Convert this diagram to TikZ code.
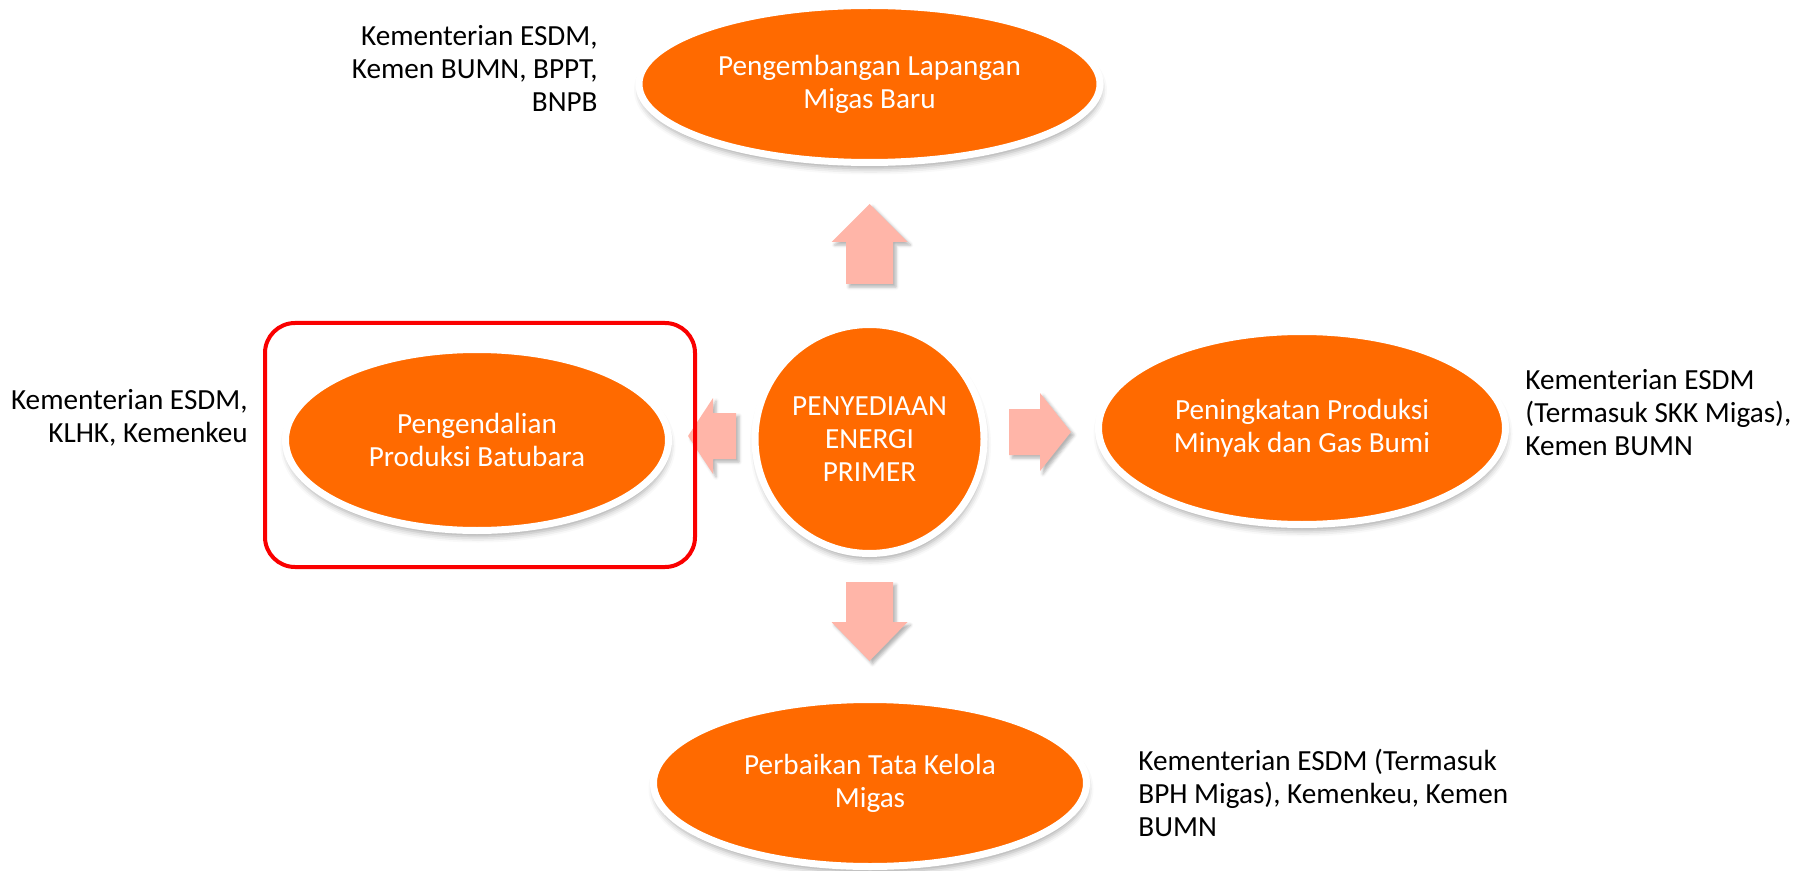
\documentclass[tikz,border=0pt]{standalone}
\usepackage{fontspec}
\setmainfont{Carlito}
\usetikzlibrary{shapes.geometric,shadows.blur}
\definecolor{orng}{RGB}{255,106,0}
\definecolor{salmon}{RGB}{255,181,168}
\definecolor{frame}{RGB}{250,0,0}
\begin{document}
\begin{tikzpicture}[x=0.5pt,y=-0.5pt,
  txt/.style={font=\fontsize{14.6}{16.5}\selectfont, inner sep=0pt},
  blob/.style={txt, fill=orng, draw=white, line width=3.5pt, text=white, align=center,
    blur shadow={shadow xshift=0.5pt, shadow yshift=-3pt, shadow blur radius=3pt, shadow opacity=35}},
  oval/.style={blob, ellipse},
  blockarrow/.style={fill=salmon, draw=none,
    blur shadow={shadow xshift=1.5pt, shadow yshift=-1.5pt, shadow blur radius=1.5pt, shadow opacity=30}},
  agency/.style={txt, text=black}
]
\useasboundingbox (0,0) rectangle (1808,871);

% block arrows
\fill[blockarrow] (846,284) -- (846,242) -- (831.5,242) -- (869.5,204) -- (907.5,242) -- (893,242) -- (893,284) -- cycle;
\fill[blockarrow] (846,582) -- (846,622) -- (831.5,622) -- (869.5,661) -- (907.5,622) -- (893,622) -- (893,582) -- cycle;
\fill[blockarrow] (736,413) -- (713,413) -- (713,398) -- (688,436) -- (713,474) -- (713,459) -- (736,459) -- cycle;
\fill[blockarrow] (1009,409) -- (1040,409) -- (1040,393) -- (1071,432) -- (1040,471) -- (1040,455) -- (1009,455) -- cycle;

% nodes
\node[blob, circle, minimum size=114.5pt] (center) at (869.5,439) {PENYEDIAAN\\ENERGI\\PRIMER};
\node[oval, minimum width=230.5pt, minimum height=78.5pt] (top) at (869.5,84) {Pengembangan Lapangan\\Migas Baru};
\node[oval, minimum width=191.5pt, minimum height=90.5pt] (left) at (477,440) {Pengendalian\\Produksi Batubara};
\node[oval, minimum width=203.5pt, minimum height=96.5pt] (right) at (1302,428) {Peningkatan Produksi\\Minyak dan Gas Bumi};
\node[oval, minimum width=216.5pt, minimum height=83.5pt] (bottom) at (870,783) {Perbaikan Tata Kelola\\Migas};

% highlight frame
\node[draw=frame, line width=2pt, rounded corners=15pt, minimum width=215pt, minimum height=122pt, inner sep=0pt] (hl) at (480,445) {};

% agency labels (anchored at the baseline of their last line)
\node[agency, anchor=base east, align=right] (atop) at (598,112) {Kementerian ESDM,\\Kemen BUMN, BPPT,\\BNPB};
\node[agency, anchor=base east, align=right] (aleft) at (248,442) {Kementerian ESDM,\\KLHK, Kemenkeu};
\node[agency, anchor=base west, align=left] (aright) at (1525,455) {Kementerian ESDM\\(Termasuk SKK Migas),\\Kemen BUMN};
\node[agency, anchor=base west, align=left] (abottom) at (1138,836) {Kementerian ESDM (Termasuk\\BPH Migas), Kemenkeu, Kemen\\BUMN};
\end{tikzpicture}
\end{document}
